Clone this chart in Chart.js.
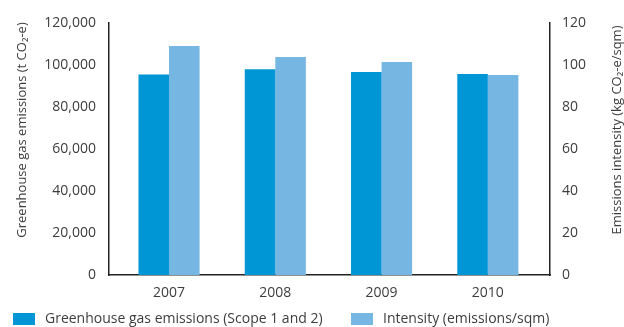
<!DOCTYPE html>
<html>
<head>
<meta charset="utf-8">
<script src="https://cdn.jsdelivr.net/npm/chart.js@4/dist/chart.umd.min.js"></script>
<style>
  html, body { margin: 0; padding: 0; background: #fff; }
  #wrap { width: 624px; height: 327px; position: relative; }
</style>
</head>
<body>
<div id="wrap"><canvas id="c"></canvas></div>
<script>
// Reporting years and values
const years = ['2007', '2008', '2009', '2010'];
const emissions = [95500, 98000, 96700, 95700];   // t CO2-e (Scope 1 and 2)
const intensity = [109.0, 103.8, 101.4, 95.2];     // kg CO2-e/sqm
const leftTicks = [0, 20000, 40000, 60000, 80000, 100000, 120000];
const rightTicks = [0, 20, 40, 60, 80, 100, 120];
const leftTitle = 'Greenhouse gas emissions (t CO₂-e)';
const rightTitle = 'Emissions intensity (kg CO₂-e/sqm)';
const seriesNames = ['Greenhouse gas emissions (Scope 1 and 2)', 'Intensity (emissions/sqm)'];

const DARK = '#0096d6';
const LIGHT = '#75b6e3';
const TEXT = '#3d3d3d';
const FONT = "'Open Sans', 'Noto Sans', sans-serif";

Chart.defaults.font.family = FONT;
Chart.defaults.color = TEXT;

// Draws both vertical axis titles (reading bottom-to-top) and the legend row.
const decorations = {
  id: 'decorations',
  afterDraw(chart) {
    const ctx = chart.ctx;
    const area = chart.chartArea;
    ctx.save();
    ctx.fillStyle = TEXT;
    ctx.font = '13px ' + FONT;
    ctx.textAlign = 'center';
    ctx.textBaseline = 'middle';
    const midY = 130;
    [[22, leftTitle], [617, rightTitle]].forEach(([x, t]) => {
      ctx.save();
      ctx.translate(x, midY);
      ctx.rotate(-Math.PI / 2);
      ctx.fillText(t, 0, 0);
      ctx.restore();
    });

    // legend
    ctx.font = '14px ' + FONT;
    ctx.textAlign = 'left';
    const items = [
      { x: 13, color: chart.data.datasets[0].backgroundColor, text: chart.data.datasets[0].label },
      { x: 351, color: chart.data.datasets[1].backgroundColor, text: chart.data.datasets[1].label }
    ];
    items.forEach(it => {
      ctx.fillStyle = it.color;
      ctx.fillRect(it.x, 313, 22, 12);
      ctx.fillStyle = TEXT;
      ctx.fillText(it.text, it.x + 32, 319);
    });
    ctx.restore();
  }
};

new Chart(document.getElementById('c'), {
  type: 'bar',
  data: {
    datasets: [
      {
        label: seriesNames[0],
        data: emissions.map((v, i) => ({ x: i, y: v })),
        backgroundColor: DARK,
        yAxisID: 'y',
        categoryPercentage: 0.575,
        barPercentage: 1.0
      },
      {
        label: seriesNames[1],
        data: intensity.map((v, i) => ({ x: i, y: v })),
        backgroundColor: LIGHT,
        yAxisID: 'y2',
        categoryPercentage: 0.575,
        barPercentage: 1.0
      }
    ]
  },
  plugins: [decorations],
  options: {
    responsive: true,
    maintainAspectRatio: false,
    animation: false,
    layout: { padding: { top: 23, left: 0, right: 0, bottom: 0 } },
    plugins: {
      tooltip: { enabled: false },
      legend: { display: false }
    },
    scales: {
      x: {
        type: 'linear',
        min: -0.565,
        max: 3.585,
        offset: false,
        grid: { display: false, drawTicks: false },
        border: { display: true, color: '#222', width: 1.5 },
        afterBuildTicks(scale) {
          scale.ticks = years.map((_, i) => ({ value: i }));
        },
        ticks: {
          padding: 10,
          font: { size: 14 },
          color: TEXT,
          callback: (v) => years[v] ?? ''
        },
        afterFit(scale) { scale.height = 52; }
      },
      y: {
        position: 'left',
        min: 0,
        max: 120000,
        grid: { display: false, drawTicks: false },
        border: { display: true, color: '#222', width: 1.5 },
        afterBuildTicks(scale) {
          scale.ticks = leftTicks.map(v => ({ value: v }));
        },
        ticks: {
          padding: 13,
          font: { size: 14 },
          color: TEXT,
          callback: (v) => v.toLocaleString('en-US')
        },
        afterFit(scale) { scale.width = 109; }
      },
      y2: {
        position: 'right',
        min: 0,
        max: 120,
        grid: { display: false, drawTicks: false },
        border: { display: true, color: '#222', width: 1.5 },
        afterBuildTicks(scale) {
          scale.ticks = rightTicks.map(v => ({ value: v }));
        },
        ticks: {
          padding: 12,
          font: { size: 14 },
          color: TEXT
        },
        afterFit(scale) { scale.width = 74; }
      }
    }
  }
});
</script>
</body>
</html>
